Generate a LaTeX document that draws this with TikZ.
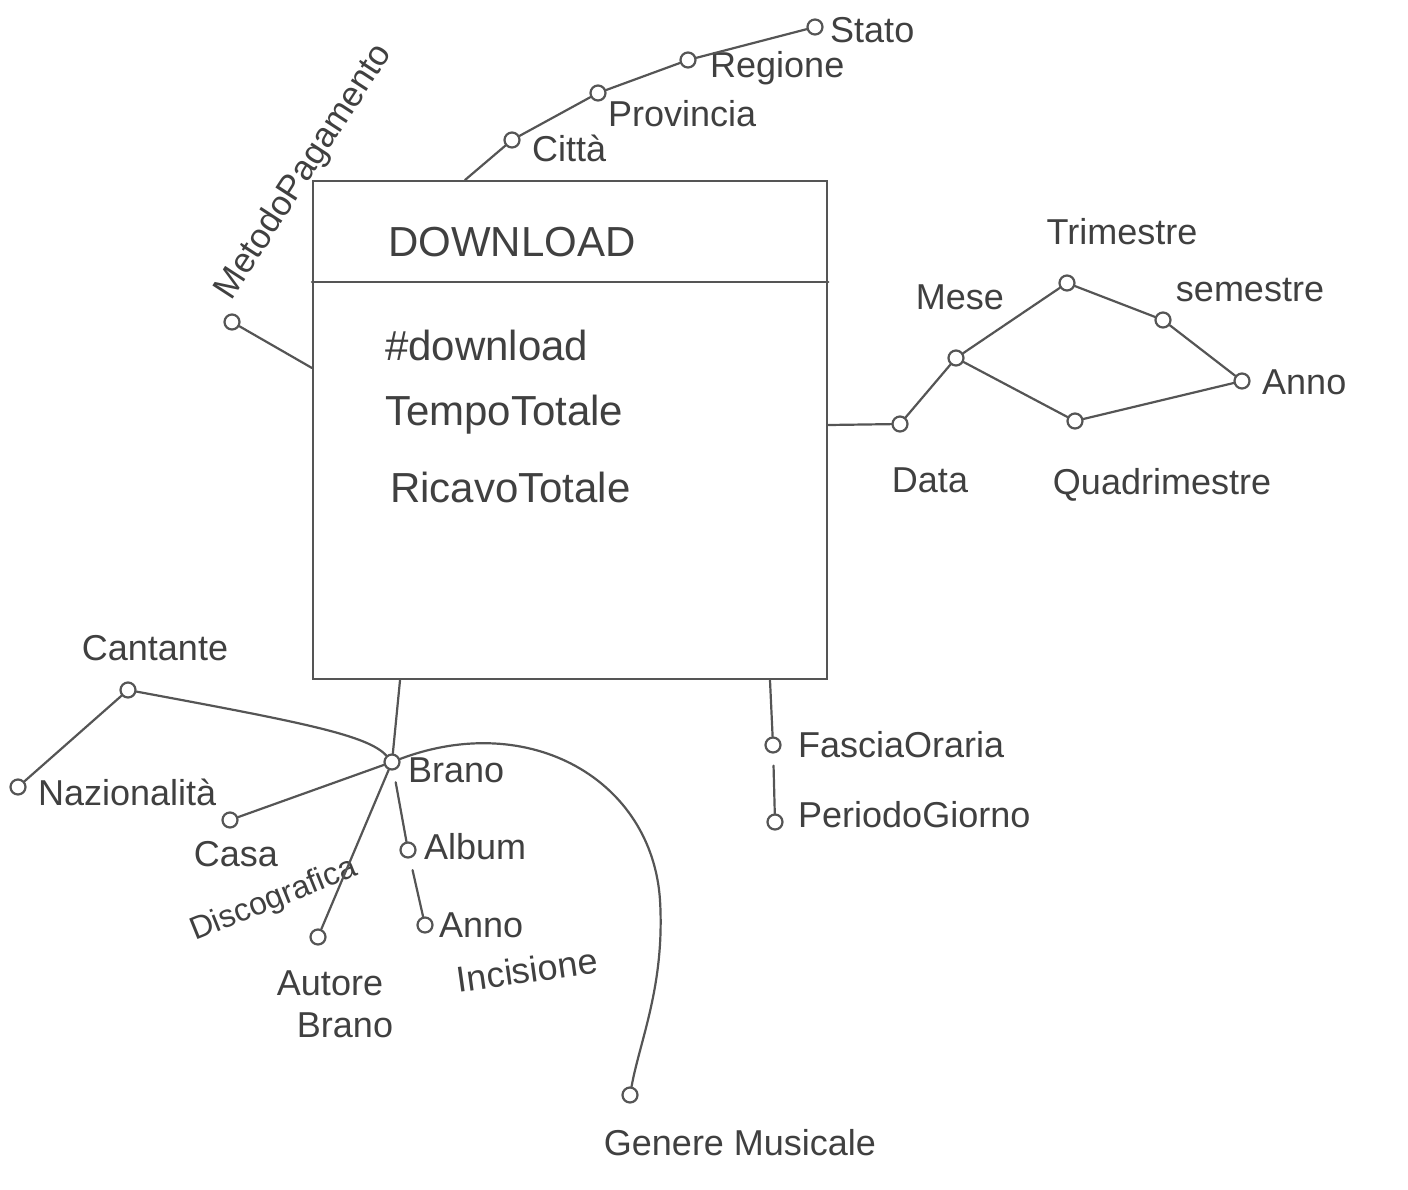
\documentclass[tikz,border=0pt]{standalone}
\usepackage{fontspec}
\setmainfont{Liberation Sans}
\usetikzlibrary{calc}
\definecolor{ink}{HTML}{555555}
\definecolor{txt}{HTML}{404040}
\tikzset{
  attr/.style={circle, draw=ink, line width=2.2pt, minimum size=15pt, inner sep=0pt, fill=white},
  lbl/.style={text=txt, font=\fontsize{36}{42}\selectfont, inner sep=2pt},
  facttxt/.style={text=txt, font=\fontsize{42}{48}\selectfont, anchor=west, inner sep=0pt},
  link/.style={draw=ink, line width=2.2pt, line cap=round},
  factbox/.style={draw=ink, line width=2.4pt, minimum width=514pt, minimum height=498pt, inner sep=0pt, anchor=north west}
}
\begin{document}
\begin{tikzpicture}[x=1pt,y=-1pt]
\useasboundingbox (0,0) rectangle (1408,1189);
% fact
\node[factbox] (fact) at (312,180) {};
\draw[link] (fact.west |- 0,282) -- (fact.east |- 0,282);
\node[facttxt] (tdl) at (388,242) {DOWNLOAD};
\node[facttxt] (m1) at (385,345) {\#download};
\node[facttxt] (m2) at (385,415) {TempoTotale};
\node[facttxt] (m3) at (390,487) {RicavoTotale};
% luogo
\node[attr] (citta) at (512,140) {};
\node[attr] (prov) at (598,93) {};
\node[attr] (reg) at (688,60) {};
\node[attr] (stato) at (815,27) {};
\node[lbl, anchor=west] (lcitta) at (530,148) {Città};
\node[lbl, anchor=west] (lprov) at (606,114) {Provincia};
\node[lbl, anchor=west] (lreg) at (708,68) {Regione};
\node[lbl, anchor=west] (lstato) at (828,30) {Stato};
\coordinate (fcitta) at (fact.north -| 465,0);
\draw[link] (fcitta) -- (citta);
\draw[link] (citta) -- (prov);
\draw[link] (prov) -- (reg);
\draw[link] (reg) -- (stato);
% metodo pagamento
\node[attr] (metodo) at (232,322) {};
\node[lbl, anchor=south west, rotate=57, font=\fontsize{35}{40}\selectfont] (lmetodo) at (238,308) {MetodoPagamento};
\coordinate (fmetodo) at (fact.west |- 0,368);
\draw[link] (fmetodo) -- (metodo);
% tempo
\node[attr] (data) at (900,424) {};
\node[attr] (mese) at (956,358) {};
\node[attr] (trim) at (1067,283) {};
\node[attr] (sem) at (1163,320) {};
\node[attr] (anno) at (1242,381) {};
\node[attr] (quad) at (1075,421) {};
\node[lbl] (ldata) at (930,480) {Data};
\node[lbl] (lmese) at (960,297) {Mese};
\node[lbl] (ltrim) at (1122,232) {Trimestre};
\node[lbl] (lsem) at (1250,290) {semestre};
\node[lbl, anchor=west] (lanno) at (1260,382) {Anno};
\node[lbl] (lquad) at (1162,485) {Quadrimestre};
\coordinate (fdata) at (fact.east |- 0,425);
\draw[link] (fdata) -- (data);
\draw[link] (data) -- (mese);
\draw[link] (mese) -- (trim);
\draw[link] (trim) -- (sem);
\draw[link] (sem) -- (anno);
\draw[link] (mese) -- (quad);
\draw[link] (quad) -- (anno);
% brano
\node[attr] (brano) at (392,762) {};
\node[attr] (cant) at (128,690) {};
\node[attr] (naz) at (18,787) {};
\node[attr] (casa) at (230,820) {};
\node[attr] (autore) at (318,937) {};
\node[attr] (album) at (408,850) {};
\node[attr] (annoinc) at (425,925) {};
\node[attr] (genere) at (630,1095) {};
\node[lbl, anchor=west] (lbrano) at (406,770) {Brano};
\node[lbl] (lcant) at (155,648) {Cantante};
\node[lbl, anchor=west] (lnaz) at (36,792) {Nazionalità};
\node[lbl] (lcasa) at (236,854) {Casa};
\node[lbl, rotate=22, font=\fontsize{32}{38}\selectfont] (ldisc) at (274,900) {Discografica};
\node[lbl] (laut1) at (330,983) {Autore};
\node[lbl] (laut2) at (345,1025) {Brano};
\node[lbl, anchor=west] (lalbum) at (422,847) {Album};
\node[lbl, anchor=west] (lanninc1) at (437,925) {Anno};
\node[lbl, rotate=8] (lanninc2) at (527,970) {Incisione};
\node[lbl] (lgenere) at (740,1143) {Genere Musicale};
\coordinate (fbrano) at (fact.south -| 400,0);
\draw[link] (fbrano) -- (brano);
\draw[link] (cant) .. controls (300,722) and (368,735) .. (brano);
\draw[link] (cant) -- (naz);
\draw[link] (brano) -- (casa);
\draw[link] (brano) -- (autore);
\draw[link, shorten <=12pt] (brano) -- (album);
\draw[link, shorten <=12pt] (album) -- (annoinc);
\draw[link] (brano) .. controls (530,710) and (652,780) .. (660,900) .. controls (665,985) and (640,1040) .. (genere);
% fascia oraria
\node[attr] (fascia) at (773,745) {};
\node[attr] (periodo) at (775,822) {};
\node[lbl, anchor=west] (lfascia) at (796,745) {FasciaOraria};
\node[lbl, anchor=west] (lperiodo) at (796,815) {PeriodoGiorno};
\coordinate (ffascia) at (fact.south -| 770,0);
\draw[link] (ffascia) -- (fascia);
\draw[link, shorten <=12pt] (fascia) -- (periodo);
\end{tikzpicture}
\end{document}
